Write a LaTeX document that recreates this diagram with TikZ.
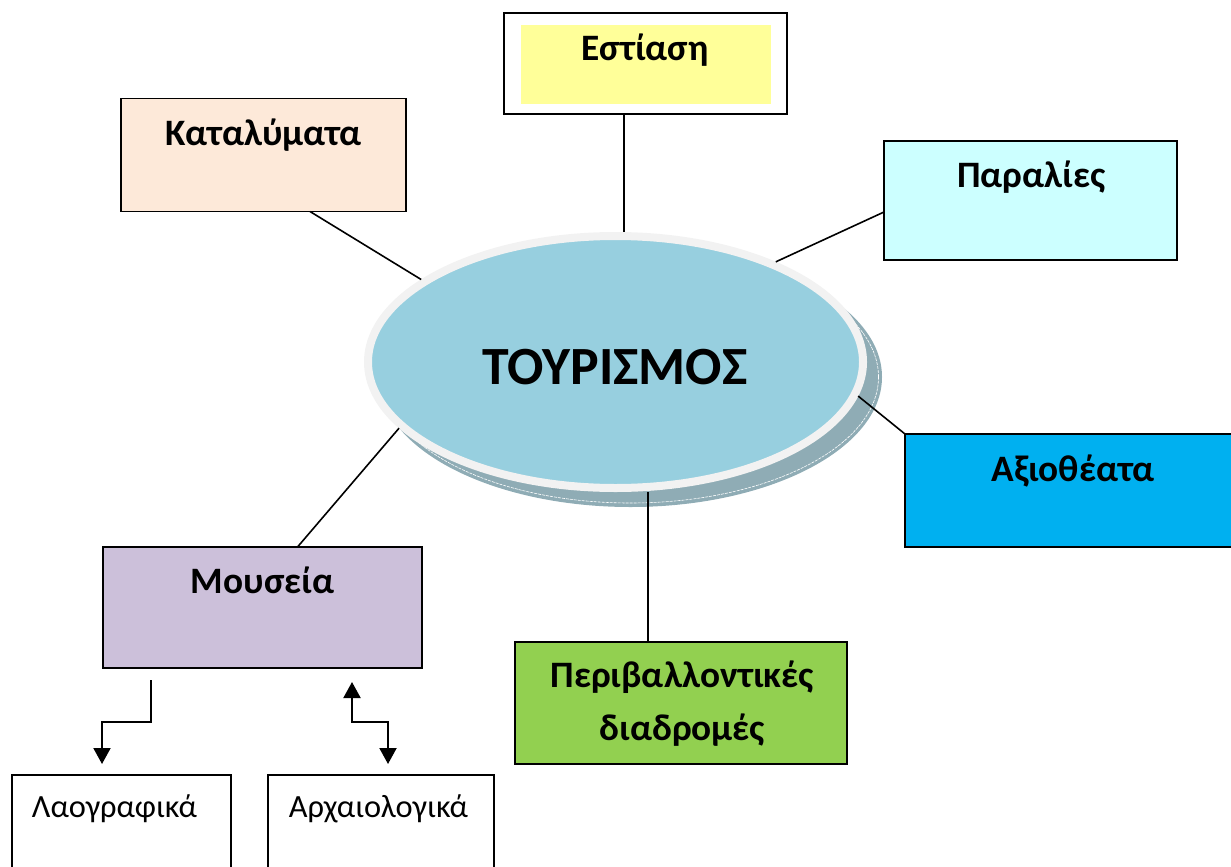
\documentclass[tikz,border=0pt]{standalone}
\usepackage{fontspec}
\setmainfont{Carlito}
\usetikzlibrary{shapes.geometric,arrows.meta}
\definecolor{yel}{HTML}{FFFF99}
\definecolor{peach}{HTML}{FDE9D9}
\definecolor{cyanl}{HTML}{CCFFFF}
\definecolor{ellfill}{HTML}{97CFDF}
\definecolor{ellbord}{HTML}{F2F2F2}
\definecolor{shadc}{HTML}{8FACB5}
\definecolor{blue}{HTML}{00B0F0}
\definecolor{green}{HTML}{92D050}
\definecolor{lilac}{HTML}{CCC0DA}
\begin{document}
\begin{tikzpicture}[x=1pt,y=-1pt,
  box/.style={draw=black, line width=1.8pt, rectangle, inner sep=0pt, outer sep=0pt},
  lbl/.style={anchor=base, inner sep=0pt, font=\fontsize{37.3}{44}\selectfont\bfseries},
  small/.style={anchor=base, inner sep=0pt, font=\fontsize{32.4}{38}\selectfont},
  conn/.style={draw=black, line width=1.6pt},
  arr/.style={draw=black, line width=2pt, -{Triangle[width=17pt,length=16pt]}},
  darr/.style={draw=black, line width=2pt, {Triangle[width=17pt,length=16pt]}-{Triangle[width=17pt,length=16pt]}}]
\useasboundingbox (0,0) rectangle (1231,867);
% boxes
\node[box, fill=white, minimum width=283pt, minimum height=101pt] (est) at (645.5,63.5) {};
\node[fill=yel, inner sep=0pt, minimum width=250pt, minimum height=79pt] (estin) at (646,64.5) {};
\node[lbl] (estt) at (645,60) {Εστίαση};
\node[box, fill=peach, minimum width=285pt, minimum height=113pt] (kat) at (263.5,155) {};
\node[lbl] (katt) at (263.5,145) {Καταλύματα};
\node[box, fill=cyanl, minimum width=293pt, minimum height=119pt] (par) at (1030.5,200.5) {};
\node[lbl] (part) at (1031.5,187) {Παραλίες};
\node[box, fill=blue, minimum width=336pt, minimum height=113pt] (axi) at (1073,490.5) {};
\node[lbl] (axit) at (1073,481) {Αξιοθέατα};
\node[box, fill=lilac, minimum width=319pt, minimum height=121pt] (mus) at (262.5,607.5) {};
\node[lbl] (must) at (262.5,593) {Μουσεία};
\node[box, fill=green, minimum width=332pt, minimum height=122pt] (per) at (681,703) {};
\node[lbl] (pert1) at (682,687) {Περιβαλλοντικές};
\node[lbl] (pert2) at (682.5,740) {διαδρομές};
\node[box, fill=white, minimum width=219pt, minimum height=110pt] (lao) at (121.5,830) {};
\node[small] (laot) at (114.5,817) {Λαογραφικά};
\node[box, fill=white, minimum width=226pt, minimum height=110pt] (arx) at (381,830) {};
\node[small] (arxt) at (378.5,817) {Αρχαιολογικά};
% ellipse with shadow
\node[ellipse, fill=shadc, inner sep=0pt, minimum width=503pt, minimum height=260pt] (shad) at (630.5,377) {};
\draw[white, line width=0.6pt, dash pattern=on 3pt off 1pt] (shad.center) ellipse [x radius=248pt, y radius=126pt];
\node[ellipse, draw=ellbord, line width=8pt, fill=ellfill, inner sep=0pt, minimum width=495pt, minimum height=252pt] (ell) at (615.5,362) {};
\node[anchor=base, inner sep=0pt, font=\fontsize{53.8}{60}\selectfont\bfseries] (ellt) at (615,384) {ΤΟΥΡΙΣΜΟΣ};
% connectors
\draw[conn] ([xshift=46.5pt]kat.south) -- (ell.157);
\draw[conn] ([xshift=-21.5pt]est.south) -- ([xshift=-21.5pt]est.south |- ell.north);
\draw[conn] ([yshift=-11.5pt]par.west) -- (ell.32);
\draw[conn] (ell.-8) -- (axi.north west);
\draw[conn] ([xshift=-33pt]per.north) -- ([xshift=-33pt]per.north |- ell.south);
\draw[conn] (ell.197) -- ([xshift=35pt]mus.north);
% arrows
\coordinate (a1) at (151,680);
\coordinate (a2) at (102,722);
\coordinate (a3) at (102,764);
\draw[arr] (a1) |- (a2) -- (a3);
\coordinate (b1) at (352,682);
\coordinate (b2) at (388,722);
\coordinate (b3) at (388,764);
\draw[darr] (b1) |- (b2) -- (b3);
\end{tikzpicture}
\end{document}
